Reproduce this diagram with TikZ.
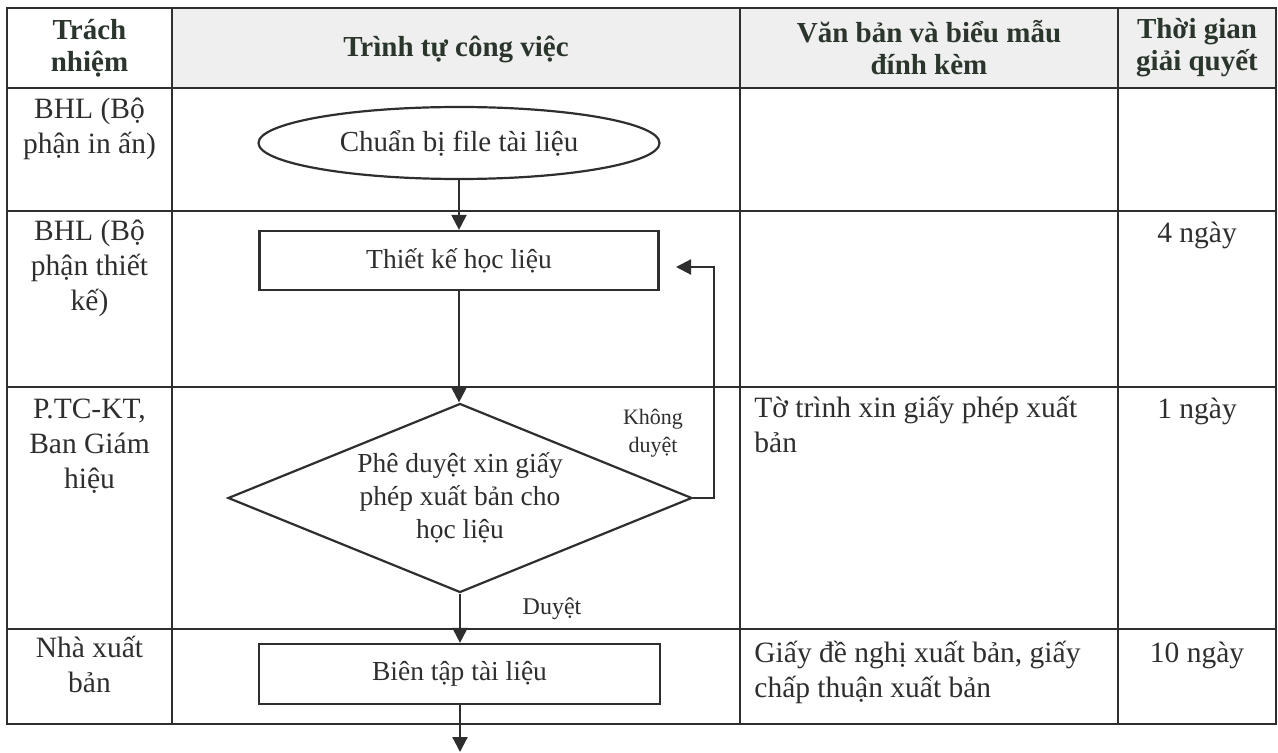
\documentclass[tikz,border=0pt]{standalone}
\usepackage{fontspec}
\setmainfont{Liberation Serif}
\usetikzlibrary{shapes.geometric,arrows.meta}
\definecolor{ink}{HTML}{2E2E2E}
\definecolor{hdr}{HTML}{2A352C}
\definecolor{hdrfill}{HTML}{EFEFEF}
\begin{document}
\begin{tikzpicture}[x=0.5pt,y=-0.5pt,
  grid/.style={draw=ink,line width=0.9pt},
  cell/.style={font=\fontsize{14.75}{17.5}\selectfont,text=ink,inner sep=0pt,anchor=north,align=center},
  doc/.style={cell,align=left,anchor=north west},
  head/.style={font=\bfseries\fontsize{14.5}{16}\selectfont,text=hdr,inner sep=0pt,align=center},
  flowbox/.style={rectangle,draw=ink,line width=1.1pt,inner sep=0pt,font=\fontsize{13.75}{16.5}\selectfont,text=ink},
  arr/.style={draw=ink,line width=1.1pt,-{Triangle[length=7.5pt,width=7.5pt]}}
]
\useasboundingbox (0,0) rectangle (1278,753);
% header background
\fill[hdrfill] (172,8) rectangle (1276,88);
% table grid
\draw[grid] (7,8) rectangle (1276,724);
\foreach \yy in {88,211,387,629} \draw[grid] (7,\yy) -- (1276,\yy);
\foreach \xx in {172,740,1118} \draw[grid] (\xx,8) -- (\xx,724);
% header
\node[head] (h1) at (89.5,48) {Trách\\nhiệm};
\node[head] (h2) at (456,49) {Trình tự công việc};
\node[head] (h3) at (929,48) {Văn bản và biểu mẫu\\đính kèm};
\node[head] (h4) at (1197,48) {Thời gian\\giải quyết};
% responsibility column
\node[cell] (r1) at (89.5,94) {\strut BHL (Bộ\\phận in ấn)};
\node[cell] (r2) at (89.5,216) {\strut BHL (Bộ\\phận thiết\\kế)};
\node[cell] (r3) at (89.5,394) {\strut P.TC-KT,\\Ban Giám\\hiệu};
\node[cell] (r4) at (89.5,633) {\strut Nhà xuất\\bản};
% documents column
\node[doc] (d3) at (754,393) {\strut Tờ trình xin giấy phép xuất\\bản};
\node[doc] (d4) at (754,638) {\strut Giấy đề nghị xuất bản, giấy\\chấp thuận xuất bản};
% time column
\node[cell] (t2) at (1197,218) {\strut 4 ngày};
\node[cell] (t3) at (1197,394) {\strut 1 ngày};
\node[cell] (t4) at (1197,638) {\strut 10 ngày};
% flowchart
\node[ellipse,draw=ink,line width=1.1pt,minimum width=200.5pt,minimum height=36pt,inner sep=0pt,
      font=\fontsize{14.5}{17}\selectfont,text=ink] (start) at (459,143) {Chuẩn bị file tài liệu};
\node[flowbox,minimum width=199.5pt,minimum height=29.5pt] (design) at (459,260.5) {Thiết kế học liệu};
\node[diamond,draw=ink,line width=1.1pt,minimum width=232pt,minimum height=94.5pt,inner sep=0pt,
      aspect=2.45,align=center,font=\fontsize{13.75}{16.5}\selectfont,text=ink] (approve) at (460,498)
      {Phê duyệt xin giấy\\phép xuất bản cho\\học liệu};
\node[flowbox,minimum width=200.5pt,minimum height=30pt] (edit) at (459.5,674) {Biên tập tài liệu};
\coordinate (back) at (676,267);
\coordinate (endp) at (460,752);
\draw[arr] (start.south) -- (design.north);
\draw[arr] (design.south) -- (design.south |- approve.north);
\draw[arr] (approve.south) -- (approve.south |- edit.north);
\draw[arr] (approve.south |- edit.south) -- (endp);
\draw[arr] (approve.east) -- ++(21,0) |- (back);
\node[font=\fontsize{11}{14}\selectfont,text=ink,align=center,inner sep=0pt] (no) at (653,433) {Không\\duyệt};
\node[font=\fontsize{12}{14}\selectfont,text=ink,anchor=base,inner sep=0pt] (yes) at (552,614) {Duyệt};
\end{tikzpicture}
\end{document}
